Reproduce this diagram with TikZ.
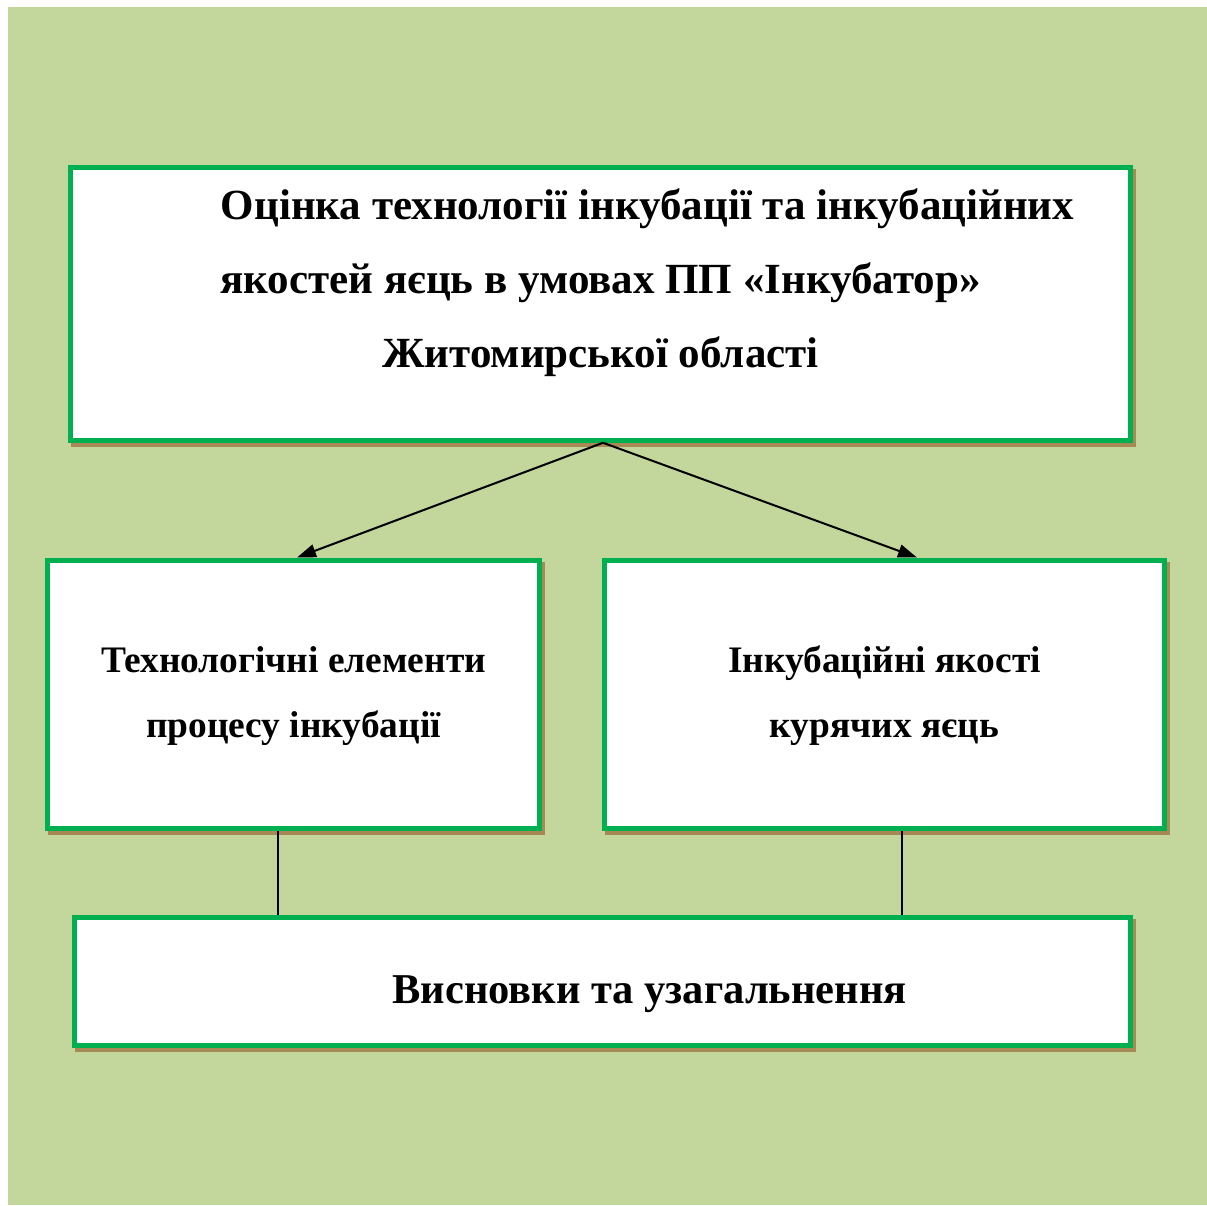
\documentclass[tikz,border=0pt]{standalone}
\usepackage{fontspec}
\setmainfont{Liberation Serif}
\usetikzlibrary{arrows.meta,shadows}
\definecolor{bgolive}{RGB}{195,214,155}
\definecolor{boxgreen}{RGB}{0,176,80}
\definecolor{shadowbrown}{RGB}{166,137,84}

\begin{document}
\begin{tikzpicture}[x=1pt,y=-1pt,>={Triangle[length=19pt,width=13pt]},
    box/.style={draw=boxgreen,line width=5pt,fill=white,align=center,inner sep=0pt,
      general shadow={shadow xshift=3pt,shadow yshift=-4pt,draw=shadowbrown,fill=shadowbrown}},
    link/.style={line width=1.3pt}]
  \useasboundingbox (0,0) rectangle (1207,1205);
  \fill[bgolive] (8,7) rectangle (1207,1205);

  % top box
  \node[box,minimum width=1060pt,minimum height=272.5pt,text height=180pt,text depth=54pt,
        font=\fontsize{43}{74}\selectfont\bfseries] (eval) at (600.5,304)
    {\hspace*{94pt}Оцінка технології інкубації та інкубаційних\\
     якостей яєць в умовах ПП «Інкубатор»\\
     Житомирської області};

  % middle boxes
  \node[box,minimum width=492pt,minimum height=268.5pt,text height=95pt,text depth=9.5pt,
        font=\fontsize{37.4}{65}\selectfont\bfseries] (techn) at (293.5,694.25)
    {Технологічні елементи\\процесу інкубації};
  \node[box,minimum width=560pt,minimum height=268.5pt,text height=95pt,text depth=9.5pt,
        font=\fontsize{37.4}{65}\selectfont\bfseries] (incub) at (884.5,694.25)
    {Інкубаційні якості\\курячих яєць};

  % bottom box
  \node[box,minimum width=1056pt,minimum height=128pt,text height=52pt,text depth=9pt,
        font=\fontsize{42.5}{50}\selectfont\bfseries] (concl) at (602.5,981.5)
    {\hspace*{94pt}Висновки та узагальнення};

  \draw[link,->,line width=2pt] ([xshift=2.5pt]eval.south) -- ([xshift=3.5pt]techn.north);
  \draw[link,->,line width=2pt] ([xshift=2.5pt]eval.south) -- ([xshift=32.5pt]incub.north);
  \draw[link] ([xshift=-15.5pt]techn.south) -- ([xshift=-15.5pt]techn.south |- concl.north);
  \draw[link] ([xshift=17.5pt]incub.south) -- ([xshift=17.5pt]incub.south |- concl.north);
\end{tikzpicture}
\end{document}
